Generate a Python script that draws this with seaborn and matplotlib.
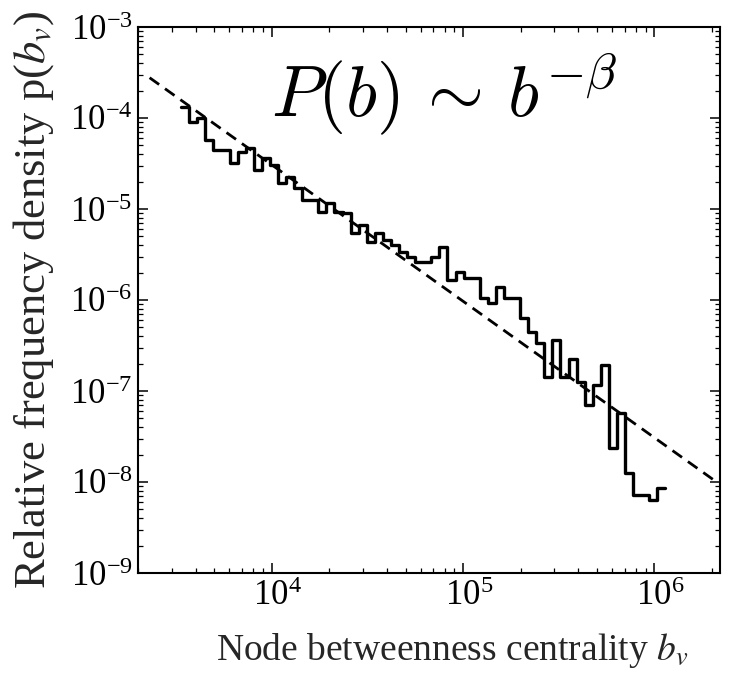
import numpy as np
import pandas as pd
import matplotlib
matplotlib.use("Agg")
import matplotlib.pyplot as plt
import seaborn as sns
from matplotlib.ticker import LogLocator, LogFormatterSciNotation, NullFormatter
from matplotlib.transforms import ScaledTranslation

# ---- data -------------------------------------------------------------
# histogram: log-spaced bins of node betweenness centrality
bin_min = 3.36e3
bin_max = 1.14e6
n_bins = 60

density = [1.32e-4, 9.0e-5, 1.0e-4, 5.7e-5, 4.45e-5, 4.45e-5, 3.2e-5, 4.23e-5, 4.68e-5, 2.68e-5,
           3.63e-5, 3.05e-5, 1.93e-5, 2.25e-5, 1.70e-5, 1.26e-5, 1.26e-5, 9.27e-6, 1.16e-5, 9.27e-6,
           9.04e-6, 5.45e-6, 6.67e-6, 4.34e-6, 5.45e-6, 4.56e-6, 4.02e-6, 3.37e-6, 2.97e-6, 2.62e-6,
           2.62e-6, 2.97e-6, 3.82e-6, 1.66e-6, 2.03e-6, 1.75e-6, 1.75e-6, 1.05e-6, 9.27e-7, 1.39e-6,
           1.05e-6, 1.05e-6, 6.34e-7, 4.45e-7, 3.37e-7, 1.43e-7, 3.63e-7, 1.43e-7, 2.25e-7, 1.26e-7,
           7.0e-8, 1.16e-7, 1.93e-7, 2.37e-8, 5.73e-8, 1.26e-8, 7.2e-9, 7.2e-9, 6.34e-9, 8.6e-9]

# power-law fit P(b) ~ b^-beta (end points of the dashed line)
fit_b = [2.3e3, 2.07e6]
fit_p = [2.77e-4, 1.03e-8]

x_label = "Node betweenness centrality $b_v$"
y_label = "Relative frequency density p($b_v$)"
annotation = r"$P(b)\,\sim\,b^{-\beta}$"

# ---- style --------------------------------------------------------------
sns.set_style("ticks")
plt.rcParams["font.family"] = ["Liberation Serif", "DejaVu Serif"]
plt.rcParams["mathtext.fontset"] = "stix"
plt.rcParams["axes.unicode_minus"] = False

fig = plt.figure(figsize=(7.34, 6.73), dpi=100)
ax = fig.add_axes([138 / 734, 1 - 573 / 673, (720 - 138) / 734, (573 - 27) / 673])

edges = np.geomspace(bin_min, bin_max, n_bins + 1)
step_df = pd.DataFrame({"b": edges, "p": density + [density[-1]]})
fit_df = pd.DataFrame({"b": fit_b, "p": fit_p})

sns.lineplot(data=fit_df, x="b", y="p", ax=ax, color="black", lw=2.0,
             linestyle=(0, (4.2, 2.6)), estimator=None, sort=False)
sns.lineplot(data=step_df, x="b", y="p", ax=ax, color="black", lw=2.4,
             drawstyle="steps-post", estimator=None, sort=False)

ax.set_xscale("log")
ax.set_yscale("log")
ax.set_xlim(2.0e3, 2.2e6)
ax.set_ylim(1e-9, 1e-3)

ax.xaxis.set_major_locator(LogLocator(base=10, numticks=20))
ax.xaxis.set_minor_locator(LogLocator(base=10, subs=np.arange(2, 10), numticks=50))
ax.yaxis.set_major_locator(LogLocator(base=10, numticks=20))
ax.yaxis.set_minor_locator(LogLocator(base=10, subs=np.arange(2, 10), numticks=50))
ax.xaxis.set_major_formatter(LogFormatterSciNotation())
ax.yaxis.set_major_formatter(LogFormatterSciNotation())
ax.xaxis.set_minor_formatter(NullFormatter())
ax.yaxis.set_minor_formatter(NullFormatter())

ax.tick_params(which="both", direction="in", top=True, right=True, colors="black")
ax.tick_params(which="major", length=7, width=1.1, labelsize=25)
ax.tick_params(axis="x", which="major", pad=5)
ax.tick_params(axis="y", which="major", pad=4)
ax.tick_params(which="minor", length=3.5, width=0.9)
for s in ax.spines.values():
    s.set_linewidth(1.5)
    s.set_color("black")

# x tick labels sit slightly right of their ticks in the reference
shift = ScaledTranslation(6 / 100, 0, fig.dpi_scale_trans)
for lbl in ax.get_xticklabels():
    lbl.set_transform(lbl.get_transform() + shift)

ax.set_xlabel(x_label, fontsize=27, labelpad=13)
ax.xaxis.label.set_x(0.54)
ax.set_ylabel(y_label, fontsize=32, labelpad=10)

ax.text(0.228, 0.835, annotation, transform=ax.transAxes, fontsize=52,
        math_fontfamily="cm", ha="left", va="baseline", color="black")

fig.savefig("out.png", dpi=100)
